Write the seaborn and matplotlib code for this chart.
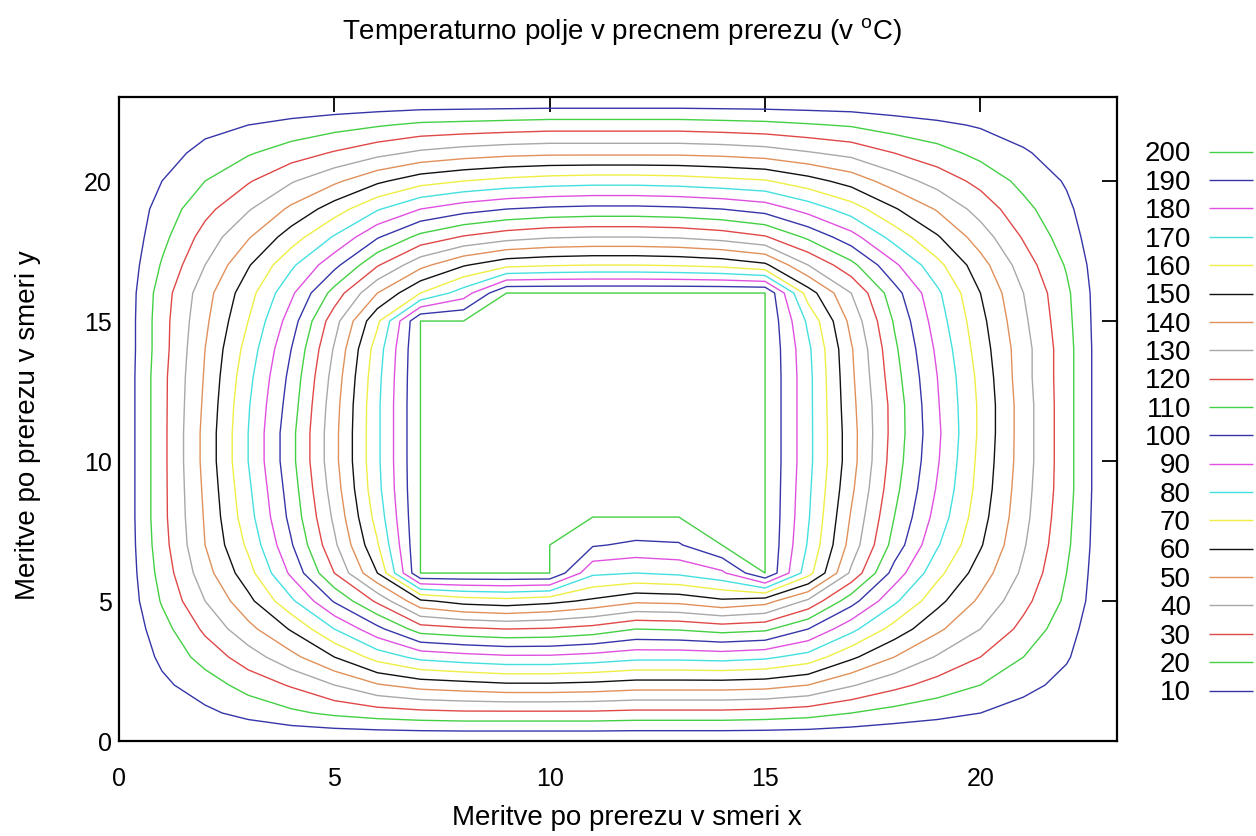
import numpy as np
import matplotlib
matplotlib.use("Agg")
import matplotlib.pyplot as plt
import seaborn as sns

# measurement grid along the cross-section
x_vals = list(range(24))
y_vals = list(range(24))

# measured temperatures, one row per y (values for x = 0 .. 23)
t_y00 = [0, 0, 0, 0, 0, 0, 0, 0, 0, 0, 0, 0, 0, 0, 0, 0, 0, 0, 0, 0, 0, 0, 0, 0]
t_y01 = [0, 4, 8, 13, 18, 22, 25, 27, 28, 28, 28, 28, 27, 27, 27, 26, 24, 20, 16, 13, 10, 6, 3, 0]
t_y02 = [0, 8, 15, 24, 31, 40, 49, 54, 56, 58, 58, 57, 55, 55, 55, 54, 50, 41, 33, 26, 20, 13, 7, 0]
t_y03 = [0, 12, 24, 35, 47, 60, 74, 83, 86, 88, 88, 86, 83, 83, 84, 82, 76, 62, 50, 39, 30, 20, 11, 0]
t_y04 = [0, 16, 32, 47, 61, 80, 97, 115, 118, 120, 119, 116, 110, 111, 114, 112, 100, 83, 66, 52, 40, 27, 14, 0]
t_y05 = [0, 21, 40, 57, 78, 101, 122, 148, 154, 156, 153, 148, 142, 143, 148, 144, 128, 104, 82, 63, 48, 33, 18, 0]
t_y06 = [0, 24, 46, 66, 92, 120, 150, 200, 200, 200, 200, 172, 170, 172, 178, 200, 164, 128, 96, 73, 55, 38, 20, 0]
t_y07 = [0, 26, 50, 72, 99, 128, 159, 200, 200, 200, 200, 191, 188, 189, 200, 200, 169, 136, 106, 81, 61, 41, 22, 0]
t_y08 = [0, 27, 51, 76, 103, 132, 164, 200, 200, 200, 200, 200, 200, 200, 200, 200, 171, 139, 110, 86, 64, 43, 23, 0]
t_y09 = [0, 27, 52, 78, 105, 135, 167, 200, 200, 200, 200, 200, 200, 200, 200, 200, 172, 142, 113, 89, 66, 44, 24, 0]
t_y10 = [0, 27, 53, 80, 107, 137, 168, 200, 200, 200, 200, 200, 200, 200, 200, 200, 173, 144, 115, 91, 67, 45, 24, 0]
t_y11 = [0, 27, 53, 80, 107, 137, 168, 200, 200, 200, 200, 200, 200, 200, 200, 200, 173, 144, 116, 92, 68, 45, 24, 0]
t_y12 = [0, 27, 52, 79, 105, 136, 168, 200, 200, 200, 200, 200, 200, 200, 200, 200, 173, 143, 116, 91, 68, 45, 24, 0]
t_y13 = [0, 27, 51, 77, 103, 134, 167, 200, 200, 200, 200, 200, 200, 200, 200, 200, 173, 142, 114, 90, 67, 44, 24, 0]
t_y14 = [0, 26, 50, 74, 100, 131, 165, 200, 200, 200, 200, 200, 200, 200, 200, 200, 172, 141, 112, 88, 65, 44, 24, 0]
t_y15 = [0, 26, 48, 70, 95, 126, 158, 200, 200, 200, 200, 200, 200, 200, 200, 200, 168, 137, 109, 85, 63, 42, 23, 0]
t_y16 = [0, 25, 46, 66, 88, 114, 140, 160, 175, 200, 200, 200, 200, 200, 200, 200, 155, 130, 104, 82, 60, 40, 22, 0]
t_y17 = [0, 21, 40, 59, 78, 97, 119, 137, 149, 157, 159, 160, 160, 159, 157, 152, 130, 113, 92, 73, 54, 35, 19, 0]
t_y18 = [0, 17, 34, 49, 65, 81, 99, 113, 121, 126, 129, 130, 130, 129, 126, 121, 108, 94, 76, 61, 45, 29, 15, 0]
t_y19 = [0, 14, 27, 39, 52, 65, 79, 90, 96, 100, 102, 103, 103, 102, 100, 96, 86, 75, 61, 49, 36, 23, 12, 0]
t_y20 = [0, 10, 20, 29, 39, 48, 58, 66, 70, 73, 75, 76, 76, 75, 73, 71, 64, 56, 45, 36, 27, 17, 9, 0]
t_y21 = [0, 6, 13, 19, 25, 31, 37, 42, 45, 47, 48, 48, 48, 48, 47, 45, 41, 37, 30, 24, 17, 11, 6, 0]
t_y22 = [0, 3, 7, 10, 13, 16, 19, 22, 23, 24, 25, 25, 25, 25, 24, 23, 21, 19, 15, 12, 9, 6, 3, 0]
t_y23 = [0, 0, 0, 0, 0, 0, 0, 0, 0, 0, 0, 0, 0, 0, 0, 0, 0, 0, 0, 0, 0, 0, 0, 0]

# isotherms (deg C)
levels = [10, 20, 30, 40, 50, 60, 70, 80, 90, 100,
          110, 120, 130, 140, 150, 160, 170, 180, 190, 200]

sns.set_style("white")
plt.rcParams['font.family'] = ['Liberation Sans', 'DejaVu Sans']
plt.rcParams['mathtext.fontset'] = 'custom'
plt.rcParams['mathtext.rm'] = 'Liberation Sans'
plt.rcParams['text.color'] = 'black'

# gnuplot-like line colours, repeating every 9 levels
line_cycle = ['#3535a8', '#44d044', '#e04848', '#a8a8a8', '#e0905a',
              '#111111', '#eeee44', '#44e0e0', '#e050e0']
level_colors = [line_cycle[i % len(line_cycle)] for i in range(len(levels))]

temps = np.array([t_y00, t_y01, t_y02, t_y03, t_y04, t_y05, t_y06, t_y07,
                  t_y08, t_y09, t_y10, t_y11, t_y12, t_y13, t_y14, t_y15,
                  t_y16, t_y17, t_y18, t_y19, t_y20, t_y21, t_y22, t_y23])

fig = plt.figure(figsize=(12.56, 8.36), dpi=100)
ax = fig.add_axes([0.0947, 0.1136, 0.7946, 0.7703])

# core nodes sit exactly on 200, so each isoline is traced a hair below its value
cs = ax.contour(x_vals, y_vals, temps, levels=[lv - 0.01 for lv in levels],
                colors=level_colors, linewidths=1.0)

ax.set_xlim(0, 23.17)
ax.set_ylim(0, 23)
ax.set_xticks([0, 5, 10, 15, 20])
ax.set_yticks([0, 5, 10, 15, 20])
ax.tick_params(direction='in', length=10.5, width=1.3, top=True, right=True,
               labelsize=18, color='black', labelcolor='black')
ax.tick_params(axis='x', pad=19)
ax.tick_params(axis='y', pad=5)
for sp in ax.spines.values():
    sp.set_color('black')
    sp.set_linewidth(1.6)

handles, _ = cs.legend_elements()
ax.legend(handles[::-1], [str(lv) for lv in levels][::-1],
          loc='center right', bbox_to_anchor=(0.998, 0.493),
          bbox_transform=fig.transFigure, frameon=False, markerfirst=False,
          fontsize=20, handlelength=1.6, handletextpad=0.65,
          labelspacing=0.085, borderpad=0, borderaxespad=0)

fig.text(0.495, 0.961, r'Temperaturno polje v precnem prerezu (v $^{\mathrm{o}}$C)',
         ha='center', va='center', fontsize=20)
fig.text(0.499, 0.022, 'Meritve po prerezu v smeri x', ha='center', va='center', fontsize=20)
fig.text(0.022, 0.492, 'Meritve po prerezu v smeri y', ha='center', va='center',
         rotation=90, fontsize=20)

fig.savefig('out.png', dpi=100)
